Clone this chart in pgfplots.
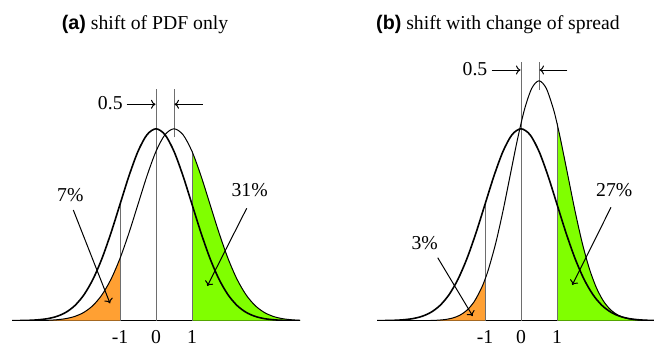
\documentclass[border=0pt]{standalone}
\usepackage{pgfplots}
\pgfplotsset{compat=1.18}
\usepackage{pgfplotstable}
\usepackage{fontspec}
\setmainfont{Liberation Serif}
\setsansfont{Liberation Sans}
\usetikzlibrary{arrows.meta}
\definecolor{tailorange}{HTML}{FFA033}
\definecolor{tailgreen}{HTML}{80FF00}
\definecolor{guide}{HTML}{6E6E6E}
\newcommand\lbl{\fontsize{19.7bp}{23.6bp}\selectfont}

% standard normal N(0,1)
\pgfplotstableread{
x y
-4.00 0.000134
-3.75 0.000353
-3.50 0.000873
-3.25 0.002029
-3.00 0.004432
-2.75 0.009094
-2.50 0.017528
-2.25 0.031740
-2.00 0.053991
-1.75 0.086277
-1.50 0.129518
-1.25 0.182649
-1.00 0.241971
-0.75 0.301137
-0.50 0.352065
-0.25 0.386668
0.00 0.398942
0.25 0.386668
0.50 0.352065
0.75 0.301137
1.00 0.241971
1.25 0.182649
1.50 0.129518
1.75 0.086277
2.00 0.053991
2.25 0.031740
2.50 0.017528
2.75 0.009094
3.00 0.004432
3.25 0.002029
3.50 0.000873
3.75 0.000353
4.00 0.000134
}\basecurve

% shifted N(0.5,1)
\pgfplotstableread{
x y
-4.00 0.000016
-3.75 0.000048
-3.50 0.000134
-3.25 0.000353
-3.00 0.000873
-2.75 0.002029
-2.50 0.004432
-2.25 0.009094
-2.00 0.017528
-1.75 0.031740
-1.50 0.053991
-1.25 0.086277
-1.00 0.129518
-0.75 0.182649
-0.50 0.241971
-0.25 0.301137
0.00 0.352065
0.25 0.386668
0.50 0.398942
0.75 0.386668
1.00 0.352065
1.25 0.301137
1.50 0.241971
1.75 0.182649
2.00 0.129518
2.25 0.086277
2.50 0.053991
2.75 0.031740
3.00 0.017528
3.25 0.009094
3.50 0.004432
3.75 0.002029
4.00 0.000873
}\shiftcurve

% shifted and narrower N(0.5,0.8)
\pgfplotstableread{
x y
-4.0 0.000000
-3.5 0.000002
-3.3 0.000006
-3.1 0.000020
-2.9 0.000060
-2.7 0.000167
-2.5 0.000441
-2.3 0.001091
-2.1 0.002536
-1.9 0.005540
-1.7 0.011368
-1.5 0.021910
-1.3 0.039675
-1.1 0.067489
-1.0 0.085988
-0.9 0.107846
-0.7 0.161898
-0.5 0.228311
-0.3 0.302464
-0.1 0.376421
0.1 0.440081
0.3 0.483335
0.5 0.498678
0.7 0.483335
0.9 0.440081
1.0 0.410201
1.1 0.376421
1.3 0.302464
1.5 0.228311
1.7 0.161898
1.9 0.107846
2.1 0.067489
2.3 0.039675
2.5 0.021910
2.7 0.011368
2.9 0.005540
3.1 0.002536
3.3 0.001091
3.5 0.000441
3.7 0.000167
3.9 0.000060
}\spreadcurve

\pgfplotsset{
  panel/.style={
    scale only axis, anchor=south west,
    height=269.36bp, ymin=0, ymax=0.56,
    axis y line=none, axis x line=bottom,
    x axis line style={-, line width=1.2bp, black},
    every outer x axis line/.append style={-},
    xtick={-1,0,1}, xticklabels={-1,0,1},
    major tick length=0pt,
    xticklabel style={font=\lbl, anchor=base, inner sep=0pt, yshift=-22.5bp},
  },
  bold/.style={black, line width=1.6bp, smooth},
  thin/.style={black, line width=1bp, smooth},
  guideline/.style={guide, line width=1bp},
}

\begin{document}
\begin{tikzpicture}[x=1bp, y=1bp]
\useasboundingbox (0,0) rectangle (654,346);

% ---------- panel (a) ----------
\begin{axis}[panel, at={(12bp,25.3bp)}, width=288bp, xmin=-4, xmax=4]
\addplot[draw=none, fill=tailorange, smooth] table[restrict x to domain=-4:-0.99] {\shiftcurve} \closedcycle;
\addplot[draw=none, fill=tailgreen, smooth] table[restrict x to domain=0.99:4] {\shiftcurve} \closedcycle;
\addplot[guideline] coordinates {(-1,0) (-1,0.241971)};
\addplot[guideline] coordinates {(1,0) (1,0.352065)};
\addplot[guideline] coordinates {(0,0) (0,0.4817)};
\addplot[guideline] coordinates {(0.5,0.3813) (0.5,0.4817)};
\addplot[thin] table {\shiftcurve};
\addplot[bold] table {\basecurve};
\end{axis}

% ---------- panel (b) ----------
\begin{axis}[panel, at={(377bp,25.3bp)}, width=277.2bp, xmin=-4, xmax=3.7]
\addplot[draw=none, fill=tailorange, smooth] table[restrict x to domain=-4:-0.99] {\spreadcurve} \closedcycle;
\addplot[draw=none, fill=tailgreen, smooth] table[restrict x to domain=0.99:4] {\spreadcurve} \closedcycle;
\addplot[guideline] coordinates {(-1,0) (-1,0.241971)};
\addplot[guideline] coordinates {(1,0) (1,0.410201)};
\addplot[guideline] coordinates {(0,0) (0,0.5385)};
\addplot[guideline] coordinates {(0.5,0.4796) (0.5,0.5385)};
\addplot[thin] table {\spreadcurve};
\addplot[bold] table {\basecurve};
\end{axis}

% ---------- annotations ----------
\tikzset{ann/.style={-{To[length=4.5bp,width=9bp]}, line width=1bp, black}}
\tikzset{txt/.style={inner sep=0pt, font=\lbl}}

\node[txt, anchor=base west] at (61.7,317) {{\sffamily\bfseries (a)} shift of PDF only};
\node[txt, anchor=base] at (110.3,236.7) {0.5};
\draw[ann] (126.7,241.7) -- (155.5,241.7);
\draw[ann] (202.7,241.7) -- (174.5,241.7);
\node[txt, anchor=base] at (70.3,145) {7\%};
\draw[ann] (73.3,136) -- (110,42.7);
\node[txt, anchor=base] at (249.7,149.3) {31\%};
\draw[ann] (246.7,137.7) -- (207.3,60);

\node[txt, anchor=base west] at (376,317) {{\sffamily\bfseries (b)} shift with change of spread};
\node[txt, anchor=base] at (475,270.3) {0.5};
\draw[ann] (491.7,276) -- (520.5,276);
\draw[ann] (567.3,276) -- (539.5,276);
\node[txt, anchor=base] at (424.7,97) {3\%};
\draw[ann] (437.7,88.3) -- (472.7,30);
\node[txt, anchor=base] at (614.2,150) {27\%};
\draw[ann] (611,138.7) -- (572.3,61);
\end{tikzpicture}
\end{document}
